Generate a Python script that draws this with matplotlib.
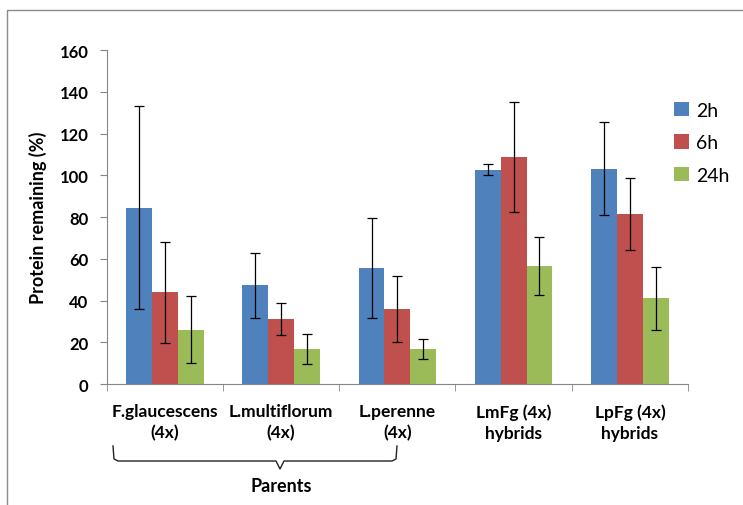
import matplotlib.pyplot as plt
import numpy as np
from matplotlib.lines import Line2D

# Protein remaining after 2h, 6h and 24h for parents and hybrids
categories = ['F.glaucescens\n(4x)', 'L.multiflorum\n(4x)', 'L.perenne\n(4x)',
              'LmFg (4x)\nhybrids', 'LpFg (4x)\nhybrids']
series = ['2h', '6h', '24h']
mean_2h = [84.5, 47.2, 55.5, 102.7, 103.2]
mean_6h = [44.0, 31.2, 36.0, 108.8, 81.3]
mean_24h = [26.1, 16.8, 16.8, 56.6, 41.0]
err_2h = [48.8, 15.7, 24.0, 2.5, 22.1]
err_6h = [24.2, 7.6, 15.7, 26.4, 17.3]
err_24h = [15.9, 7.0, 5.0, 13.8, 15.2]
yticks = [0, 20, 40, 60, 80, 100, 120, 140, 160]

colors = ['#4F81BD', '#C0504D', '#9BBB59']
plt.rcParams['font.family'] = ['Lato', 'DejaVu Sans']

fig = plt.figure(figsize=(7.43, 5.06), dpi=100)

# Thin grey frame round the chart area
bg = fig.add_axes([0, 0, 1, 1])
bg.set_xlim(0, 743)
bg.set_ylim(506, 0)
bg.axis('off')
bg.add_line(Line2D([7, 7, 760], [520, 11, 11], color='#8c8c8c', lw=1.0))

ax = fig.add_axes([0.1436, 0.2391, 0.7824, 0.6601])

x = np.arange(len(categories))
width = 1 / 4.5
means = [mean_2h, mean_6h, mean_24h]
errs = [err_2h, err_6h, err_24h]
for i in range(3):
    ax.bar(x + (i - 1) * width, means[i], width, color=colors[i], label=series[i],
           yerr=errs[i], error_kw=dict(ecolor='black', elinewidth=0.9, capsize=3.5,
                                       capthick=0.9), zorder=2)

ax.set_xlim(-0.5, len(categories) - 0.5)
ax.set_ylim(0, 160)
ax.set_yticks(yticks)
ax.set_yticklabels([str(t) for t in yticks], fontweight='bold', fontsize=12)
ax.set_xticks(np.arange(len(categories) + 1) - 0.5, minor=True)
ax.set_xticks(x)
ax.set_xticklabels(categories, fontweight='bold', fontsize=12.5, linespacing=1.35)
ax.tick_params(axis='x', which='major', length=0, pad=14)
ax.tick_params(axis='x', which='minor', length=5, color='#868686')
ax.tick_params(axis='y', length=5, color='#868686', pad=8)
for side in ['top', 'right']:
    ax.spines[side].set_visible(False)
for side in ['left', 'bottom']:
    ax.spines[side].set_color('#868686')
ax.set_ylabel('Protein remaining (%)', fontweight='bold', fontsize=13, labelpad=9)

# Legend on the right, outside the bars
ax.legend(loc='upper left', bbox_to_anchor=(0.976, 0.845), frameon=False, fontsize=14,
          handlelength=0.75, handleheight=0.75, handletextpad=0.4, labelspacing=0.8,
          borderpad=0, borderaxespad=0)

# Curly bracket grouping the three parents
bx = [113, 114, 118, 276, 280, 284, 392, 396, 397]
by = [447, 460, 462, 462, 470, 462, 462, 460, 447]
bg.add_line(Line2D(bx, by, color='#222222', lw=1.0))
bg.text(281, 487, 'Parents', ha='center', va='center', fontweight='bold', fontsize=13)

fig.savefig('out.png', dpi=100)
